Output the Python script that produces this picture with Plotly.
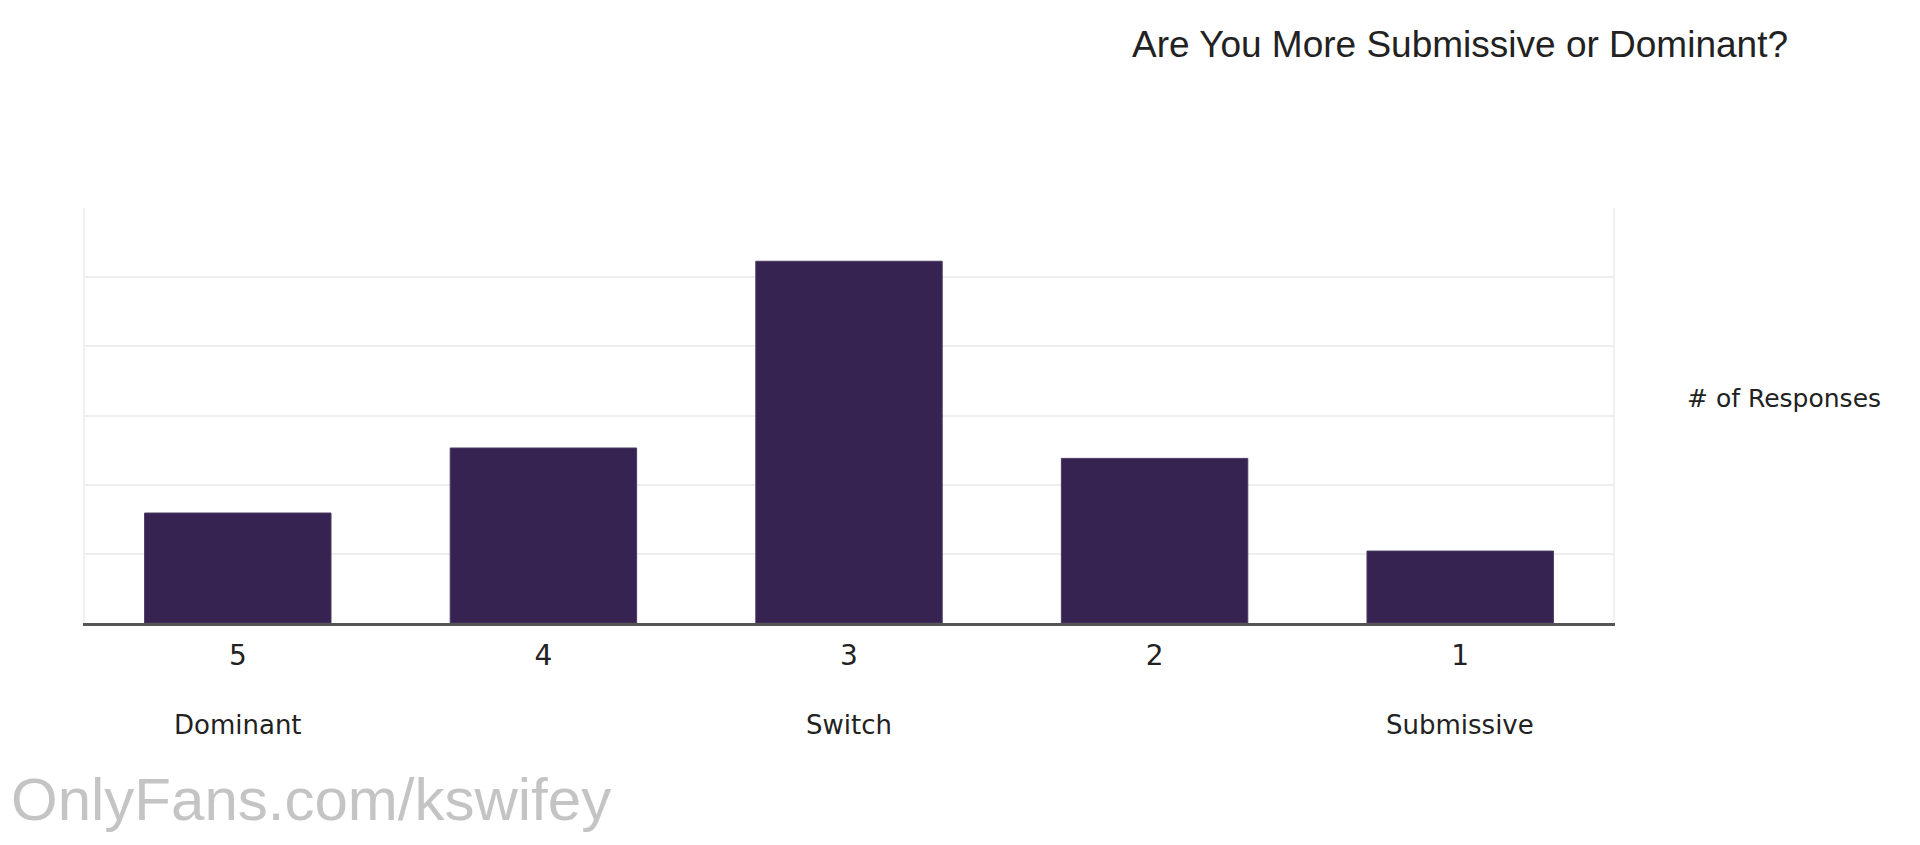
import plotly.graph_objects as go

categories = ["5", "4", "3", "2", "1"]
responses = [1.59, 2.53, 5.23, 2.38, 1.04]
scale_labels = ["Dominant", "", "Switch", "", "Submissive"]

title_text = "Are You More Submissive or Dominant?"
y_title = "# of Responses"
watermark = "OnlyFans.com/kswifey"

# page body has an 8px default margin; compensate
OFF = 8

fig = go.Figure()
fig.add_trace(go.Bar(
    x=categories,
    y=responses,
    marker=dict(color="#372352", line=dict(color="#4a3a63", width=1)),
    hoverinfo="skip",
))

annotations = []
for i, lab in enumerate(scale_labels):
    if lab:
        annotations.append(dict(
            x=i, xref="x", y=-0.246, yref="paper",
            text=lab, showarrow=False, xanchor="center", yanchor="middle",
            font=dict(family="DejaVu Sans", size=26, color="#222222"),
        ))
annotations.append(dict(
    x=1.112, xref="paper", y=0.542, yref="paper",
    text=y_title, showarrow=False, xanchor="center", yanchor="middle",
    font=dict(family="DejaVu Sans", size=25, color="#222222"),
))
annotations.append(dict(
    x=-0.05, xref="paper", y=-0.425, yref="paper",
    text=watermark, showarrow=False, xanchor="left", yanchor="middle",
    font=dict(family="Liberation Sans", size=60, color="#c4c4c4"),
))

fig.update_layout(
    width=1920, height=845,
    paper_bgcolor="white", plot_bgcolor="white",
    margin=dict(l=85 - OFF, r=1920 - (85 - OFF) - 1528, t=208 - OFF, b=845 - (208 - OFF) - 415),
    showlegend=False,
    bargap=0.39,
    title=dict(
        text=title_text, x=(1788 - OFF) / 1920, xanchor="right", xref="container",
        y=1 - (44 - OFF) / 845, yanchor="middle", yref="container",
        font=dict(family="Liberation Sans", size=37, color="#222222"),
    ),
    xaxis=dict(
        type="category", range=[-0.5, 4.5],
        showline=True, linecolor="#555555", linewidth=2.5,
        showgrid=False, ticks="",
        ticklabelstandoff=6,
        tickfont=dict(family="DejaVu Sans", size=28, color="#222222"),
    ),
    yaxis=dict(
        range=[0, 6], dtick=1,
        showgrid=True, gridcolor="#eeeeee", gridwidth=2,
        showticklabels=False, zeroline=False,
        showline=True, linecolor="#f0f0f0", linewidth=2, mirror=True,
    ),
    annotations=annotations,
)

fig.write_html("out.html")
